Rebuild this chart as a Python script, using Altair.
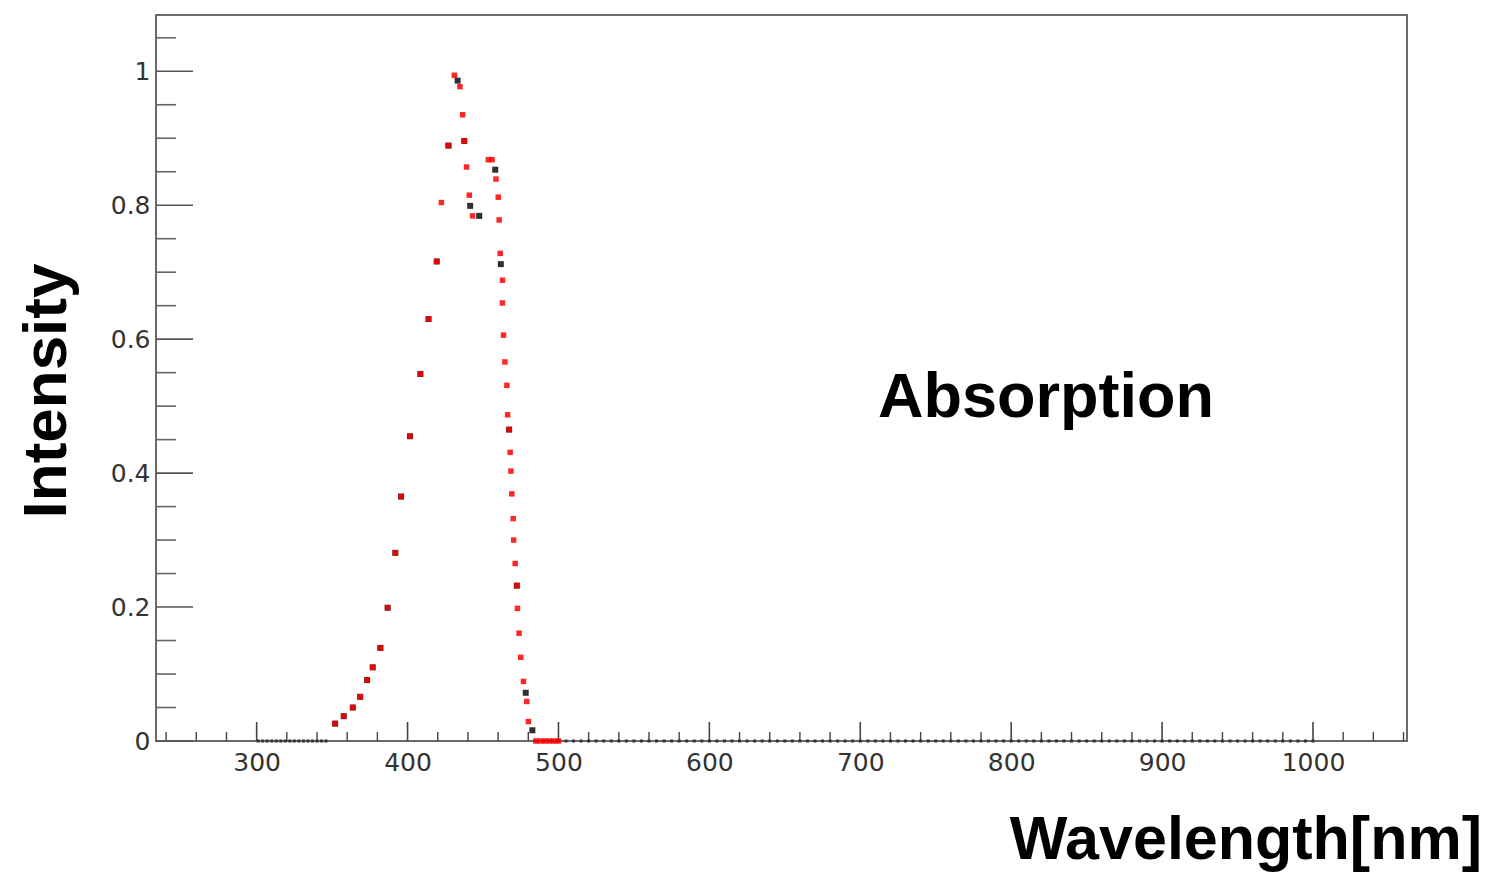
import altair as alt
import pandas as pd

# ---------------- data ----------------
# black series (wavelength [nm], intensity)
black_wl = [352.0, 357.7, 363.7, 368.6, 373.2, 376.9, 382.0, 386.8, 391.9, 395.7,
            401.6, 408.5, 413.9, 419.3, 427.2, 433.2, 437.6, 441.5, 447.5,
            458.1, 461.8, 467.3, 472.4, 478.3, 482.7]
black_val = [0.026, 0.037, 0.050, 0.066, 0.091, 0.110, 0.139, 0.199, 0.281, 0.365,
             0.455, 0.548, 0.630, 0.716, 0.889, 0.986, 0.896, 0.799, 0.784,
             0.853, 0.712, 0.465, 0.232, 0.072, 0.016]

# black series points lying on zero
black_zero_wl = [301, 304, 307, 310, 313, 316, 319, 322, 325, 328, 331, 334, 337, 340, 343, 346,
                 485, 490, 495, 500, 505, 510, 515, 520, 525, 530, 535, 540, 545, 550,
                 555, 560, 565, 570, 575, 580, 585, 590, 595, 600, 605, 610, 615, 620,
                 625, 630, 635, 640, 645, 650, 655, 660, 665, 670, 675, 680, 685, 690,
                 695, 700, 705, 710, 715, 720, 725, 730, 735, 740, 745, 750, 755, 760,
                 765, 770, 775, 780, 785, 790, 795, 800, 805, 810, 815, 820, 825, 830,
                 835, 840, 845, 850, 855, 860, 865, 870, 875, 880, 885, 890, 895, 900,
                 905, 910, 915, 920, 925, 930, 935, 940, 945, 950, 955, 960, 965, 970,
                 975, 980, 985, 990, 995, 1000]

# red series (wavelength [nm], intensity)
red_wl = [352.0, 357.7, 363.7, 368.6, 373.2, 376.9, 382.0, 386.8, 391.9, 395.7,
          401.6, 408.5, 413.9, 419.3, 422.4, 426.8, 431.0, 434.7, 436.5, 437.6,
          439.1, 440.9, 443.1, 453.5, 456.0, 458.6, 460.1, 460.7, 461.4, 462.9,
          462.9, 463.6, 464.5, 465.8, 466.3, 467.3, 468.0, 468.5, 469.1, 470.0,
          470.3, 471.3, 472.4, 472.8, 473.9, 475.0, 476.8, 479.0, 480.1]
red_val = [0.026, 0.037, 0.050, 0.066, 0.091, 0.110, 0.139, 0.199, 0.281, 0.365,
           0.455, 0.548, 0.630, 0.716, 0.804, 0.889, 0.994, 0.977, 0.935, 0.896,
           0.857, 0.815, 0.784, 0.868, 0.868, 0.839, 0.812, 0.778, 0.728, 0.688,
           0.654, 0.606, 0.566, 0.531, 0.487, 0.465, 0.431, 0.403, 0.369, 0.332,
           0.300, 0.265, 0.232, 0.198, 0.161, 0.125, 0.089, 0.059, 0.029]

# red series points lying on zero
red_zero_wl = [485, 488, 491, 494, 497, 500]

x_tick_labels = [300, 400, 500, 600, 700, 800, 900, 1000]
y_tick_labels = [0, 0.2, 0.4, 0.6, 0.8, 1]
x_minor_ticks = [v for v in range(240, 1061, 20) if v % 100 != 0]
y_minor_ticks = [0.05, 0.1, 0.15, 0.25, 0.3, 0.35, 0.45, 0.5, 0.55, 0.65, 0.7, 0.75,
                 0.85, 0.9, 0.95, 1.05]

x_title = ["Wavelength[nm]"]
y_title = ["Intensity"]
annotation = ["Absorption"]

# ---------------- chart ----------------
W, H = 1251, 726
xs = alt.Scale(domain=[233.3, 1062.3], nice=False, zero=False)
ys = alt.Scale(domain=[0, 1.084], nice=False, zero=False)

label_font = "DejaVu Sans"
x_axis = alt.Axis(values=x_tick_labels, format="d", ticks=False, domain=False, grid=False,
                  labelFont=label_font, labelFontSize=25, labelColor="#333333",
                  labelPadding=9, labelFlush=False, title=None)
y_axis = alt.Axis(values=y_tick_labels, format="~g", ticks=False, domain=False, grid=False,
                  labelFont=label_font, labelFontSize=25, labelColor="#333333",
                  labelPadding=6, labelFlush=False, title=None)


def X():
    return alt.X("wl:Q", scale=xs, axis=x_axis, title=None)


def Y():
    return alt.Y("val:Q", scale=ys, axis=y_axis, title=None)


black_df = pd.DataFrame({"wl": black_wl, "val": black_val})
black_zero_df = pd.DataFrame({"wl": black_zero_wl, "val": [0] * len(black_zero_wl)})
red_df = pd.DataFrame({"wl": red_wl, "val": red_val})
red_zero_df = pd.DataFrame({"wl": red_zero_wl, "val": [0] * len(red_zero_wl)})

x_major = alt.Chart(pd.DataFrame({"wl": x_tick_labels})).mark_rule(
    color="#444444", strokeWidth=1.6
).encode(x=X(), y=alt.value(H), y2=alt.value(H - 19))

x_minor = alt.Chart(pd.DataFrame({"wl": x_minor_ticks})).mark_rule(
    color="#444444", strokeWidth=1.4
).encode(x=X(), y=alt.value(H), y2=alt.value(H - 9))

y_major = alt.Chart(pd.DataFrame({"val": y_tick_labels})).mark_rule(
    color="#555555", strokeWidth=1.6
).encode(y=Y(), x=alt.value(0), x2=alt.value(37))

y_minor = alt.Chart(pd.DataFrame({"val": y_minor_ticks})).mark_rule(
    color="#666666", strokeWidth=1.6
).encode(y=Y(), x=alt.value(0), x2=alt.value(20))

black_zero = alt.Chart(black_zero_df).mark_square(
    color="#333333", size=9, opacity=1
).encode(x=X(), y=Y())

black_pts = alt.Chart(black_df).mark_square(
    color="#1a1a1a", size=36, opacity=0.9
).encode(x=X(), y=Y())

red_pts = alt.Chart(red_df).mark_square(
    color="#ff0000", size=30, opacity=0.85
).encode(x=X(), y=Y())

red_zero = alt.Chart(red_zero_df).mark_square(
    color="#ff0000", size=30, opacity=0.85
).encode(x=X(), y=Y())

title_font = "Liberation Sans"

x_title_txt = alt.Chart(pd.DataFrame({"t": x_title})).mark_text(
    font=title_font, fontSize=61, fontWeight="bold", color="black",
    align="right", baseline="alphabetic"
).encode(text="t:N", x=alt.value(1326), y=alt.value(844))

y_title_txt = alt.Chart(pd.DataFrame({"t": y_title})).mark_text(
    font=title_font, fontSize=62, fontWeight="bold", color="black",
    align="center", baseline="alphabetic", angle=270
).encode(text="t:N", x=alt.value(-90), y=alt.value(376))

annot_txt = alt.Chart(pd.DataFrame({"t": annotation})).mark_text(
    font=title_font, fontSize=63, fontWeight="bold", color="black",
    align="left", baseline="alphabetic"
).encode(text="t:N", x=alt.value(722), y=alt.value(402))

chart = alt.layer(
    x_major, x_minor, y_major, y_minor,
    black_zero, black_pts, red_pts, red_zero,
    x_title_txt, y_title_txt, annot_txt,
).properties(
    width=W, height=H,
    padding={"left": 148, "top": 7, "right": 75, "bottom": 133},
    autosize=alt.AutoSizeParams(type="none"),
    background="white",
).configure_view(
    stroke="#6a6a6a", strokeWidth=2
)

chart.save("out.html", embed_options={"renderer": "svg", "actions": False})
